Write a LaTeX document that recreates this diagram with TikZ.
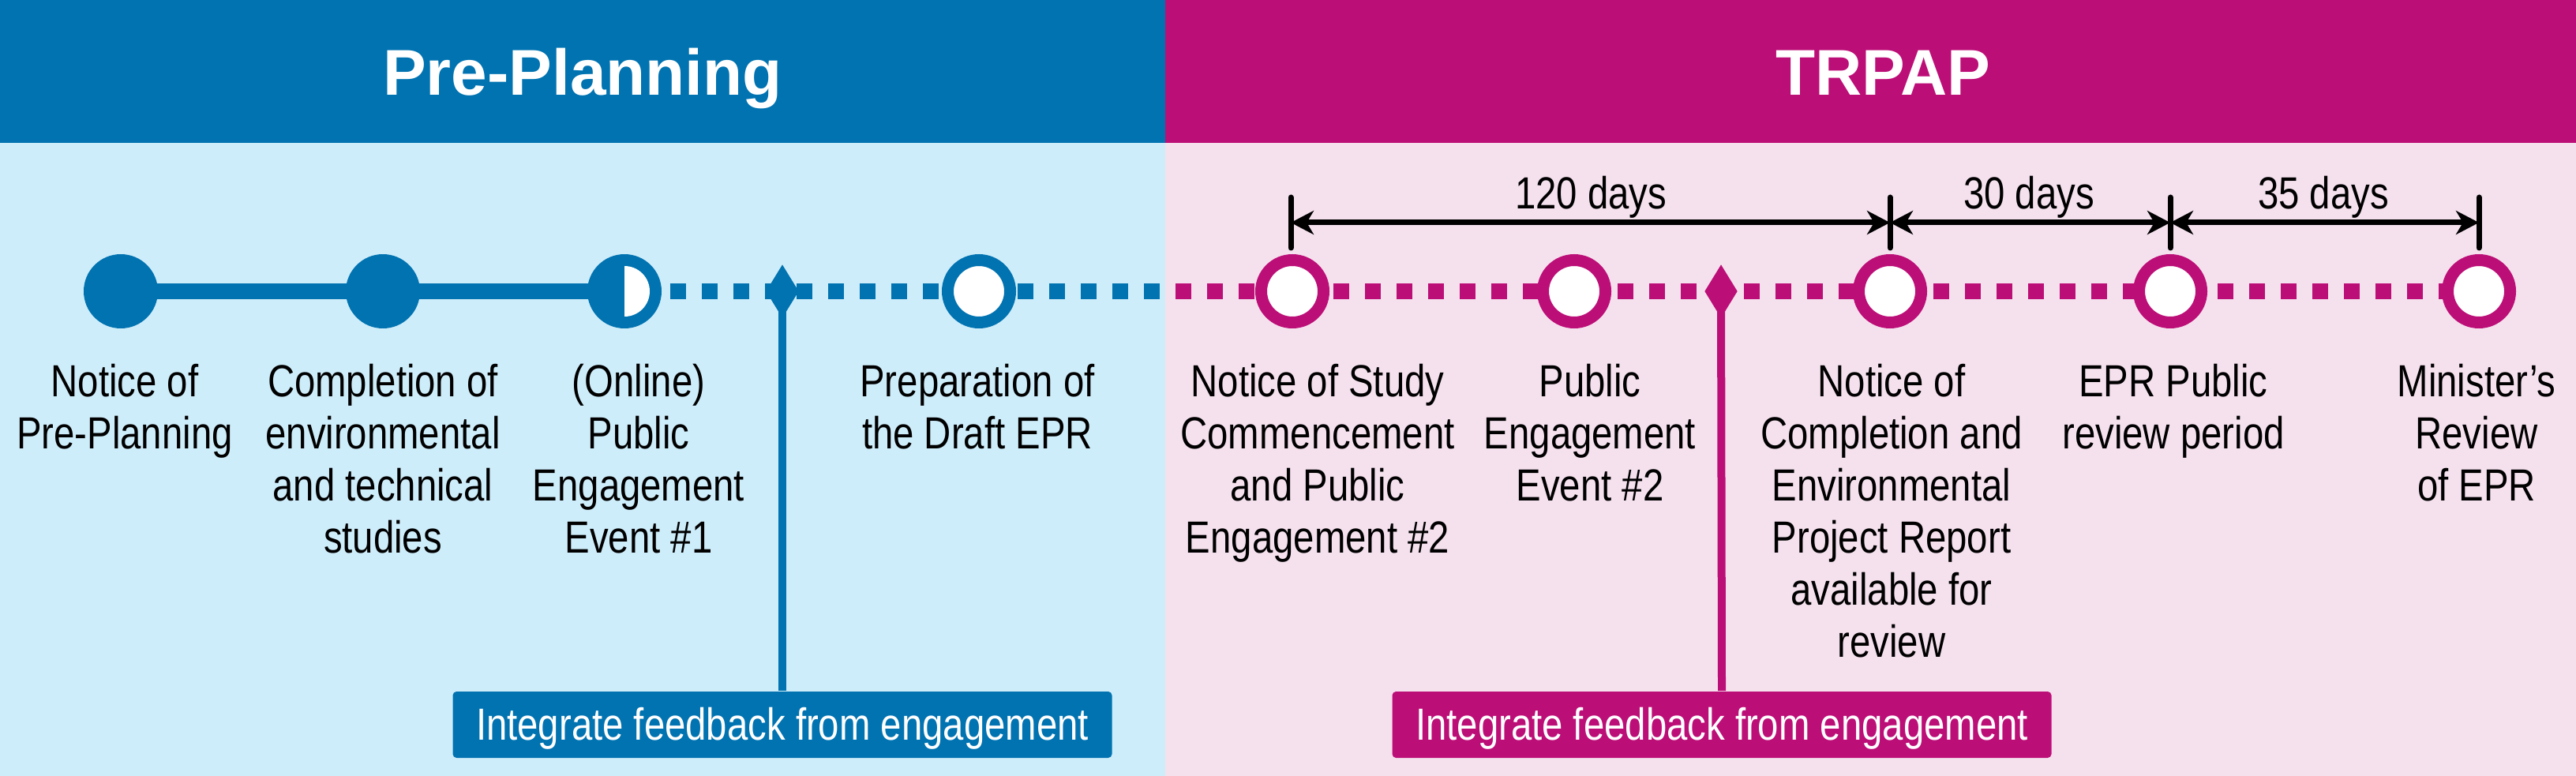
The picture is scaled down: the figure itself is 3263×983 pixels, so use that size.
\documentclass[tikz,border=0pt]{standalone}
\usepackage{fontspec}
\newfontfamily\bodyfont[FakeStretch=0.83]{Liberation Sans}
\newfontfamily\titlefont{Liberation Sans}
\usetikzlibrary{shapes.geometric,arrows.meta}
\definecolor{hdrblue}{RGB}{1,115,177}
\definecolor{hdrmag}{RGB}{188,14,119}
\definecolor{bgblue}{RGB}{206,237,250}
\definecolor{bgpink}{RGB}{245,225,238}
\pgfdeclarelayer{bgl}
\pgfdeclarelayer{lnl}
\pgfsetlayers{bgl,lnl,main}
\newcommand\lblstrut{\rule{0pt}{14.25pt}}
\begin{document}
\begin{tikzpicture}[x=0.25pt,y=-0.25pt,
  lbl/.style={anchor=north,inner sep=0pt,align=center,
    font=\bodyfont\fontsize{14.25pt}{16.5pt}\selectfont},
  daylbl/.style={anchor=base,inner sep=0pt,font=\bodyfont\fontsize{14.25pt}{16.5pt}\selectfont},
  ttl/.style={anchor=base,inner sep=0pt,text=white,
    font=\titlefont\bfseries\fontsize{20.5pt}{24pt}\selectfont},
  fulldot/.style={circle,inner sep=0pt,minimum size=23.5pt,fill=#1},
  ringdot/.style={circle,inner sep=0pt,minimum size=19.75pt,draw=#1,line width=3.75pt,fill=white},
  diam/.style={diamond,inner sep=0pt,minimum width=10.5pt,minimum height=17pt,fill=#1},
  fbbox/.style={rectangle,rounded corners=1.2pt,inner sep=0pt,minimum width=208.75pt,
    minimum height=21pt,text height=12.5pt,text depth=3pt,fill=#1,text=white,
    font=\bodyfont\fontsize{14.25pt}{16.5pt}\selectfont},
  stem/.style={line width=2.5pt,draw=#1},
  solidline/.style={line width=5pt,draw=#1},
  dotline/.style={line width=5pt,draw=#1,dash pattern=on 5pt off 5pt},
  tick/.style={line width=1.75pt,line cap=round},
  dimarrow/.style={line width=1.75pt,
    {Stealth[length=7.25pt,width=7.5pt,inset=2.2pt]}-{Stealth[length=7.25pt,width=7.5pt,inset=2.2pt]}}
]
\useasboundingbox (0,0) rectangle (3263,983);
\begin{pgfonlayer}{bgl}
  \fill[hdrblue] (0,0) rectangle (1476,181);
  \fill[hdrmag] (1476,0) rectangle (3263,181);
  \fill[bgblue] (0,181) rectangle (1476,983);
  \fill[bgpink] (1476,181) rectangle (3263,983);
\end{pgfonlayer}

% titles
\node[ttl] (tpre) at (738,121) {Pre-Planning};
\node[ttl] (ttrpap) at (2385,121) {TRPAP};

% milestones
\node[fulldot=hdrblue] (c1) at (153,369) {};
\node[fulldot=hdrblue] (c2) at (485,369) {};
\node[fulldot=hdrblue] (c3) at (791,369) {};
\fill[white] ([yshift=8pt]c3.center) arc[start angle=90,end angle=-90,radius=8pt] -- cycle;
\node[diam=hdrblue] (d1) at (991,369) {};
\node[ringdot=hdrblue] (c4) at (1240,369) {};
\node[ringdot=hdrmag] (c5) at (1637,369) {};
\node[ringdot=hdrmag] (c6) at (1994,369) {};
\node[diam=hdrmag] (d2) at (2180,369) {};
\node[ringdot=hdrmag] (c7) at (2394,369) {};
\node[ringdot=hdrmag] (c8) at (2749,369) {};
\node[ringdot=hdrmag] (c9) at (3140,369) {};
\coordinate (split) at (1476,369);

\begin{pgfonlayer}{lnl}
  \draw[solidline=hdrblue] (c1.center) -- (c3.center);
  \draw[dotline=hdrblue,dash phase=5.5pt] (c3.center) -- (split);
  \draw[dotline=hdrmag,dash phase=6.75pt] (split) -- (c9.center);
\end{pgfonlayer}

% feedback boxes
\node[fbbox=hdrblue] (b1) at (991,918) {Integrate feedback from engagement};
\node[fbbox=hdrmag] (b2) at (2181,918) {Integrate feedback from engagement};
\begin{pgfonlayer}{lnl}
  \draw[stem=hdrblue] (d1.center) -- (b1.north);
  \draw[stem=hdrmag] (d2.center) -- (b2.north);
\end{pgfonlayer}

% labels
\node[lbl] (l1) at (158,445) {\lblstrut Notice of\\Pre-Planning};
\node[lbl] (l2) at (485,445) {\lblstrut Completion of\\environmental\\and technical\\studies};
\node[lbl] (l3) at (809,445) {\lblstrut (Online)\\Public\\Engagement\\Event \#1};
\node[lbl] (l4) at (1238,445) {\lblstrut Preparation of\\the Draft EPR};
\node[lbl] (l5) at (1669,445) {\lblstrut Notice of Study\\Commencement\\and Public\\Engagement \#2};
\node[lbl] (l6) at (2014,445) {\lblstrut Public\\Engagement\\Event \#2};
\node[lbl] (l7) at (2396,445) {\lblstrut Notice of\\Completion and\\Environmental\\Project Report\\available for\\review};
\node[lbl] (l8) at (2753,445) {\lblstrut EPR Public\\review period};
\node[lbl] (l9) at (3137,445) {\lblstrut Minister’s\\Review\\of EPR};

% duration markers
\coordinate (t1) at (1635,282);
\coordinate (t2) at (2394,282);
\coordinate (t3) at (2749,282);
\coordinate (t4) at (3140,282);
\foreach \t in {t1,t2,t3,t4}
  \draw[tick] ([yshift=8pt]\t) -- ([yshift=-8pt]\t);
\draw[dimarrow] (t1) -- (t2);
\draw[dimarrow] (t2) -- (t3);
\draw[dimarrow] (t3) -- (t4);
\node[daylbl] (dl1) at (2015,265) {120 days};
\node[daylbl] (dl2) at (2570,265) {30 days};
\node[daylbl] (dl3) at (2943,265) {35 days};
\end{tikzpicture}
\end{document}
